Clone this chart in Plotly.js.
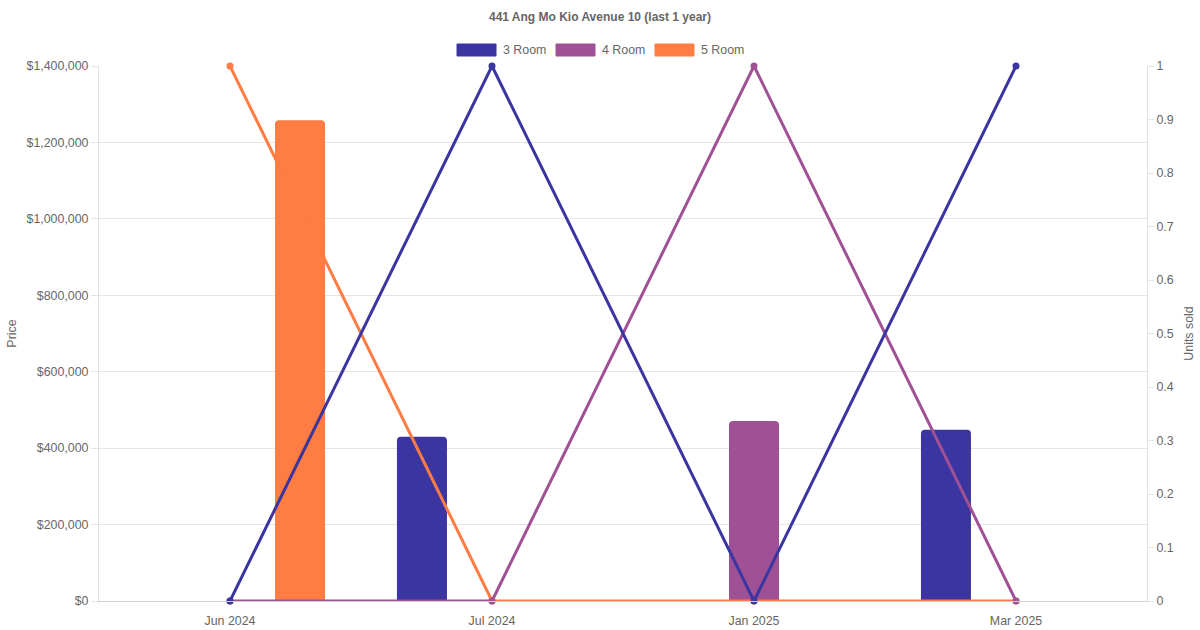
<!DOCTYPE html>
<html>
<head>
<meta charset="utf-8">
<script src="https://cdn.plot.ly/plotly-3.0.1.min.js"></script>
<style>
  html, body { margin: 0; padding: 0; background: #fff; }
  #chart { width: 1200px; height: 630px; }
</style>
</head>
<body>
<div id="chart"></div>
<script>
// data
var months = ['Jun 2024', 'Jul 2024', 'Jan 2025', 'Mar 2025'];
var flatTypes = ['3 Room', '4 Room', '5 Room'];
var colors = ['#3a35a0', '#a05195', '#ff7c43'];

// median price per month (null = no sale)
var price3 = [null, 430000, null, 448000];
var price4 = [null, null, 471000, null];
var price5 = [1258000, null, null, null];

// units sold per month
var units3 = [0, 1, 0, 1];
var units4 = [0, 0, 1, 0];
var units5 = [1, 0, 0, 0];

var prices = [price3, price4, price5];
var units = [units3, units4, units5];

var font = 'Liberation Sans, Arial, Helvetica, sans-serif';
var grey = '#666';

var data = [];

// bars first (price, left axis)
for (var i = 0; i < flatTypes.length; i++) {
  data.push({
    type: 'bar',
    name: flatTypes[i],
    x: months,
    y: prices[i],
    yaxis: 'y',
    marker: { color: colors[i], cornerradius: 4 },
    showlegend: false,
    hoverinfo: 'skip'
  });
}

// lines (units sold, right axis) - 3 Room ends up on top
for (var i = flatTypes.length - 1; i >= 0; i--) {
  data.push({
    type: 'scatter',
    mode: 'lines+markers',
    name: flatTypes[i],
    x: months,
    y: units[i],
    yaxis: 'y2',
    line: { color: colors[i], width: 3 },
    marker: { color: colors[i], size: 7 },
    cliponaxis: false,
    showlegend: false,
    hoverinfo: 'skip'
  });
}

// plot area in pixels, used to place the chart.js style legend
var plotL = 99, plotR = 1147, plotT = 66, plotB = 601;
function px(x) { return (x - plotL) / (plotR - plotL); }
function py(y) { return (plotB - y) / (plotB - plotT); }

var shapes = [];
var annotations = [];
var legX = 457, legStep = 99;
for (var i = 0; i < flatTypes.length; i++) {
  var x0 = legX + i * legStep;
  shapes.push({
    type: 'rect', xref: 'paper', yref: 'paper',
    x0: px(x0), x1: px(x0 + 39), y0: py(56), y1: py(44),
    fillcolor: colors[i], line: { color: colors[i], width: 1 }
  });
  annotations.push({
    xref: 'paper', yref: 'paper', x: px(x0 + 44), y: py(50),
    xanchor: 'left', yanchor: 'middle', showarrow: false,
    text: flatTypes[i], font: { family: font, size: 12.4, color: grey }
  });
}

var tickFont = { family: font, size: 12.4, color: grey };

var layout = {
  width: 1200,
  height: 630,
  margin: { l: plotL, r: 1200 - plotR, t: plotT, b: 630 - plotB },
  paper_bgcolor: '#fff',
  plot_bgcolor: '#fff',
  font: { family: font, size: 12, color: grey },
  title: {
    text: '<b>441 Ang Mo Kio Avenue 10 (last 1 year)</b>',
    x: 0.5, xanchor: 'center',
    y: 1 - 17 / 630, yanchor: 'middle',
    font: { family: font, size: 12, color: grey }
  },
  showlegend: false,
  barmode: 'group',
  bargap: 0.198,
  bargroupgap: 0.286,
  xaxis: {
    type: 'category',
    showgrid: false,
    zeroline: false,
    showline: true,
    linecolor: '#cfcfcf',
    linewidth: 1,
    ticks: '',
    ticklabelstandoff: 8,
    tickfont: tickFont
  },
  yaxis: {
    range: [0, 1400000],
    dtick: 200000,
    tickprefix: '$',
    tickformat: ',d',
    showgrid: true,
    gridcolor: '#e5e5e5',
    zeroline: false,
    showline: true,
    linecolor: '#e0e0e0',
    ticks: 'outside',
    ticklen: 7,
    tickcolor: '#e5e5e5',
    tickfont: tickFont,
    title: { text: 'Price', standoff: 7, font: { family: font, size: 12.4, color: grey } }
  },
  yaxis2: {
    overlaying: 'y',
    side: 'right',
    range: [0, 1],
    dtick: 0.1,
    showgrid: false,
    zeroline: false,
    showline: true,
    linecolor: '#e0e0e0',
    ticks: 'outside',
    ticklen: 6,
    tickcolor: '#e5e5e5',
    tickfont: tickFont,
    title: { text: 'Units sold', standoff: 11, font: { family: font, size: 12.4, color: grey } }
  },
  shapes: shapes,
  annotations: annotations
};

Plotly.newPlot('chart', data, layout, { displayModeBar: false, staticPlot: true });
</script>
</body>
</html>
